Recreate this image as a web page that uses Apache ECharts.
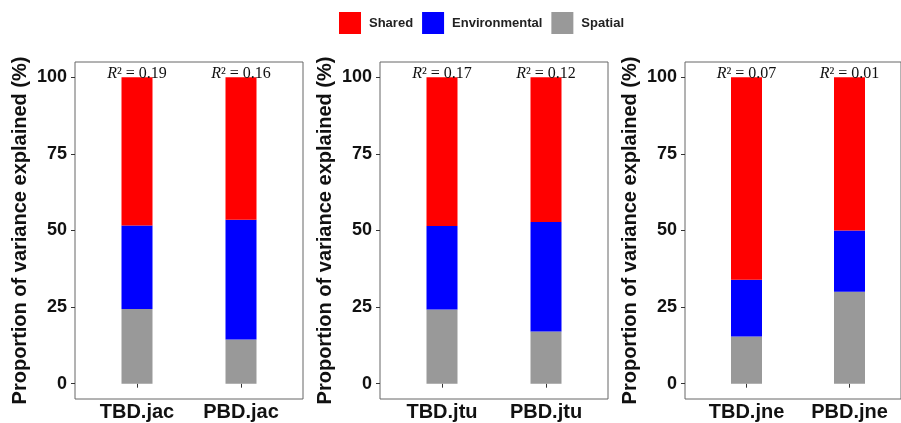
<!DOCTYPE html>
<html>
<head>
<meta charset="utf-8">
<script src="https://cdn.jsdelivr.net/npm/echarts@6/dist/echarts.min.js"></script>
<style>
html,body{margin:0;padding:0;background:#fff;}
#chart{width:901px;height:423px;}
</style>
</head>
<body>
<div id="chart"></div>
<script>
// ---- data ----
const categories1 = ["TBD.jac", "PBD.jac"];
const categories2 = ["TBD.jtu", "PBD.jtu"];
const categories3 = ["TBD.jne", "PBD.jne"];
const spatial1 = [24.4, 14.4];
const environmental1 = [27.2, 39.1];
const shared1 = [48.4, 46.5];
const spatial2 = [24.2, 17.0];
const environmental2 = [27.3, 35.8];
const shared2 = [48.5, 47.2];
const spatial3 = [15.4, 30.0];
const environmental3 = [18.5, 20.0];
const shared3 = [66.1, 50.0];
const r2Labels1 = ["0.19", "0.16"];
const r2Labels2 = ["0.17", "0.12"];
const r2Labels3 = ["0.07", "0.01"];
const yTicks = [0, 25, 50, 75, 100];
const seriesNames = ["Shared", "Environmental", "Spatial"];

const panels = [
  {cats: categories1, sp: spatial1, env: environmental1, sh: shared1, r2: r2Labels1},
  {cats: categories2, sp: spatial2, env: environmental2, sh: shared2, r2: r2Labels2},
  {cats: categories3, sp: spatial3, env: environmental3, sh: shared3, r2: r2Labels3}
];
const lefts = [75, 380, 685];
const colors = {Shared: '#FF0000', Environmental: '#0000FF', Spatial: '#999999'};
const sansBold = {fontFamily: 'Liberation Sans', fontWeight: 'bold', color: '#111'};

const grids = [], xAxes = [], yAxes = [], series = [];
panels.forEach((p, i) => {
  // inner plotting grid (bars)
  grids.push({left: lefts[i] + 10, top: 62, width: 208, height: 337, show: false});
  xAxes.push({gridIndex: i, type: 'category', data: p.cats, boundaryGap: true,
    axisLine: {show: false},
    axisTick: {show: true, alignWithLabel: true, length: 4, lineStyle: {color: '#333'}},
    axisLabel: {margin: 3, fontSize: 20, ...sansBold}
  });
  yAxes.push({gridIndex: i, type: 'value', min: -5, max: 105, offset: 10,
    splitLine: {show: false}, axisLine: {show: false},
    axisTick: {show: true, customValues: yTicks, length: 4, lineStyle: {color: '#333'}},
    axisLabel: {customValues: yTicks, margin: 8, fontSize: 18, ...sansBold},
    name: 'Proportion of variance explained (%)', nameLocation: 'middle', nameGap: 45,
    nameTextStyle: {fontSize: 20, ...sansBold}
  });
  const common = {type: 'bar', xAxisIndex: i, yAxisIndex: i, stack: 'p' + i, barWidth: 31};
  series.push({...common, name: 'Spatial', data: p.sp, itemStyle: {color: colors.Spatial}});
  series.push({...common, name: 'Environmental', data: p.env, itemStyle: {color: colors.Environmental}});
  series.push({...common, name: 'Shared', data: p.sh, itemStyle: {color: colors.Shared},
    label: {show: true, position: 'top', distance: -4,
      formatter: params => '{i|R}{n|\u00B2 = ' + p.r2[params.dataIndex] + '}',
      rich: {
        i: {fontFamily: 'Liberation Serif', fontStyle: 'italic', fontSize: 16, color: '#111'},
        n: {fontFamily: 'Liberation Serif', fontSize: 16, color: '#111'}
      }}
  });
});
// frame grids (panel borders)
panels.forEach((p, i) => {
  const gi = grids.length;
  grids.push({left: lefts[i], top: 62, width: 228, height: 337, show: true,
    borderColor: '#666', borderWidth: 1, backgroundColor: 'transparent'});
  xAxes.push({gridIndex: gi, type: 'value', min: 0, max: 1, show: false});
  yAxes.push({gridIndex: gi, type: 'value', min: 0, max: 1, show: false});
});

const chart = echarts.init(document.getElementById('chart'));
chart.setOption({
  animation: false,
  backgroundColor: '#fff',
  legend: {data: seriesNames, top: 12, left: 339, padding: 0, itemWidth: 22, itemHeight: 22, itemGap: 9,
    icon: 'rect', textStyle: {fontSize: 13, fontFamily: 'Liberation Sans', fontWeight: 'bold', color: '#222', padding: [0, 0, 0, 3]}},
  grid: grids, xAxis: xAxes, yAxis: yAxes, series: series
});
</script>
</body>
</html>
